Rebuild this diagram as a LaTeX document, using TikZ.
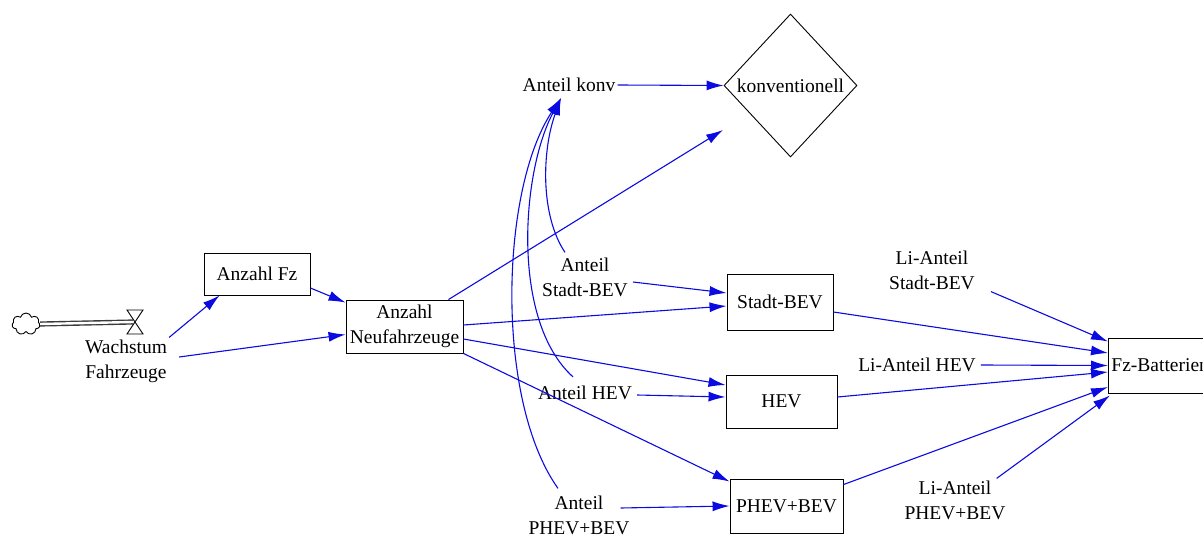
\documentclass[tikz,border=0pt]{standalone}
\usepackage{fontspec}
\setmainfont{Liberation Serif}
\usetikzlibrary{arrows.meta,shapes.geometric,shapes.symbols}
\definecolor{linkblue}{RGB}{10,10,225}
\definecolor{pipegray}{RGB}{60,60,60}
\begin{document}
\begin{tikzpicture}[x=1pt,y=-1pt,
  lbl/.style={font=\fontsize{19.5}{25}\selectfont, align=center, inner sep=2pt},
  stock/.style={lbl, draw=black, line width=0.9pt, fill=white},
  link/.style={draw=linkblue, line width=1.1pt, -{Latex[length=17pt,width=10pt]}},
]
\useasboundingbox (0,0) rectangle (1203,535);
\clip (0,0) rectangle (1203,535);

% source cloud, pipe and valve
\node[cloud, draw, cloud puffs=7, line width=0.9pt, minimum width=28pt, minimum height=22pt, inner sep=0pt] (src) at (26,324) {};
\coordinate (valve) at (135,322);
\draw[draw=pipegray, line width=1.4pt, double distance=2.4pt, double=white] (src.east) -- ([xshift=-2pt]valve);
\draw[line width=0.9pt, fill=white] ([xshift=-8pt,yshift=12pt]valve) -- ++(16,0) -- ++(-16,24) -- ++(16,0) -- cycle;

% variables
\node[lbl] (wf) at (126,361) {Wachstum\\Fahrzeuge};
\node[lbl] (akonv) at (569,85) {Anteil konv};
\node[lbl] (asb) at (585,277) {Anteil\\Stadt-BEV};
\node[lbl] (ahev) at (585,393) {Anteil HEV};
\node[lbl] (aphev) at (579,515) {Anteil\\PHEV+BEV};
\node[lbl] (lsb) at (932,270) {Li-Anteil\\Stadt-BEV};
\node[lbl] (lhev) at (917,365) {Li-Anteil HEV};
\node[lbl] (lphev) at (955,500) {Li-Anteil\\PHEV+BEV};

% stocks
\node[stock, minimum width=106pt, minimum height=42pt] (afz) at (257,274) {Anzahl Fz};
\node[stock, minimum width=117pt, minimum height=53pt] (nf) at (404.5,326.5) {Anzahl\\Neufahrzeuge};
\node[stock, minimum width=106pt, minimum height=56pt] (sb) at (780,302) {Stadt-BEV};
\node[stock, minimum width=111pt, minimum height=53pt] (hev) at (781.5,401.5) {HEV};
\node[stock, minimum width=113pt, minimum height=54pt] (phev) at (786.5,506) {PHEV+BEV};
\node[stock, anchor=west, minimum width=110pt, minimum height=55pt, align=left, text width=104pt] (fzb) at (1108,365.5) {Fz-Batterien};
\node[lbl, draw=black, line width=0.9pt, diamond, inner sep=0pt, minimum width=133pt, minimum height=143pt] (konv) at (790.5,85.5) {konventionell};
\coordinate (konvin) at (723,130);

% links
\draw[link] (wf.north east) -- ([xshift=16pt]afz.south west);
\draw[link] ([yshift=-14pt]afz.east) -- ([yshift=-3pt]nf.north west);
\draw[link] ([xshift=10pt,yshift=4pt]wf.east) -- ([yshift=-8pt]nf.west);
\draw[link] ([xshift=-15pt]nf.north east) -- (konvin);
\draw[link] ([yshift=1.5pt]nf.east) -- ([yshift=-4pt]sb.west);
\draw[link] ([yshift=-12.5pt]nf.east) -- ([yshift=16.5pt]hev.west);
\draw[link] (nf.south east) -- ([yshift=-3pt]phev.north west);
\draw[link] ([xshift=3pt,yshift=-5pt]asb.east) -- ([yshift=9pt]sb.west);
\draw[link] ([xshift=3pt,yshift=-2pt]ahev.east) -- ([yshift=4.5pt]hev.west);
\draw[link] ([xshift=-11pt,yshift=7pt]aphev.east) -- (phev.west);
\draw[link] (akonv.east) -- (konv.west);
\draw[link] ([yshift=-10pt]sb.east) -- ([yshift=12.5pt]fzb.west);
\draw[link] ([yshift=4.5pt]hev.east) -- ([yshift=-6.5pt]fzb.west);
\draw[link] ([yshift=-6pt]phev.north east) -- ([yshift=-21.5pt]fzb.west);
\draw[link] ([xshift=14pt]lsb.south east) -- ([yshift=-4pt]fzb.north west);
\draw[link] ([xshift=3pt]lhev.east) -- (fzb.west);
\draw[link] ([xshift=-11pt]lphev.north east) -- ([xshift=2pt,yshift=-2pt]fzb.south west);

% shares feeding back to the conventional share
\draw[link] ([xshift=-20pt,yshift=3pt]asb.north) .. controls (540,215) and (542,150) .. ([xshift=-8pt,yshift=-4pt]akonv.south);
\draw[link] ([xshift=-12pt,yshift=7pt]ahev.north) .. controls (510,320) and (522,170) .. ([xshift=-8pt,yshift=-4pt]akonv.south);
\draw[link] ([xshift=-21pt,yshift=5pt]aphev.north) .. controls (495,400) and (500,190) .. ([xshift=-8pt,yshift=-4pt]akonv.south);
\end{tikzpicture}
\end{document}
